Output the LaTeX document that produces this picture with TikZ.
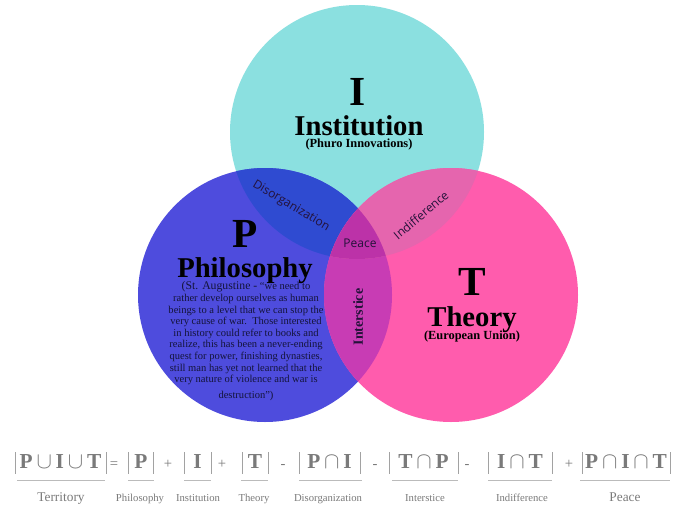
\documentclass[tikz,border=0pt]{standalone}
\usepackage{fontspec}
\setmainfont{Liberation Serif}
\newfontfamily\lblfont{Open Sans}
\definecolor{cP}{HTML}{4E4CDD}
\definecolor{cI}{HTML}{8BE0E0}
\definecolor{cT}{HTML}{FF5CAD}
\definecolor{cPI}{HTML}{2F4BD1}
\definecolor{cIT}{HTML}{E565AE}
\definecolor{cPT}{HTML}{C83CB4}
\definecolor{cPIT}{HTML}{BC32A8}
\definecolor{ink}{HTML}{14143A}
\definecolor{lbl}{HTML}{24123A}
\definecolor{fgray}{HTML}{7A7A7A}
\definecolor{lgray}{HTML}{BBBBBB}
\begin{document}
\begin{tikzpicture}[x=0.75pt,y=-0.75pt,
  bigletter/.style={font=\bfseries\fontsize{31}{31}\selectfont, inner sep=0pt, anchor=base},
  bigname/.style={font=\bfseries\fontsize{21.5}{22}\selectfont, inner sep=0pt, anchor=base},
  subname/.style={font=\bfseries\fontsize{9.3}{10}\selectfont, inner sep=0pt, anchor=base},
  region/.style={font=\lblfont\fontsize{9}{10}\selectfont, text=lbl, inner sep=0pt},
  term/.style={font=\bfseries\fontsize{16}{16}\selectfont, text=fgray, inner sep=0pt, anchor=base},
  oper/.style={font=\fontsize{11}{11}\selectfont, text=fgray, inner sep=0pt, anchor=base},
  tlabel/.style={font=\fontsize{8}{8}\selectfont, text=fgray, inner sep=0pt, anchor=base},
  tlabelbig/.style={font=\fontsize{10}{10}\selectfont, text=fgray, inner sep=0pt, anchor=base},
  barline/.style={draw=fgray!70, line width=0.6pt},
  uline/.style={draw=lgray, line width=1.2pt}
]
\useasboundingbox[fill=white] (0,0) rectangle (675,507);
\coordinate (oI) at (357,132);
\coordinate (oP) at (265,295);
\coordinate (oT) at (451,295);
\def\R{127}
% circles
\fill[cI] (oI) circle[radius=\R];
\fill[cP] (oP) circle[radius=\R];
\fill[cT] (oT) circle[radius=\R];
\begin{scope}
  \clip (oP) circle[radius=\R];
  \fill[cPI] (oI) circle[radius=\R];
  \fill[cPT] (oT) circle[radius=\R];
\end{scope}
\begin{scope}
  \clip (oI) circle[radius=\R];
  \fill[cIT] (oT) circle[radius=\R];
\end{scope}
\begin{scope}
  \clip (oI) circle[radius=\R];
  \clip (oP) circle[radius=\R];
  \fill[cPIT] (oT) circle[radius=\R];
\end{scope}
% Institution
\node[bigletter] (Ibig) at (358,105) {I};
\node[bigname] (Iname) at (359,135) {Institution};
\node[subname] (Isub) at (359,147) {(Phuro Innovations)};
% Philosophy
\node[bigletter] (Pbig) at (245,247) {P};
\node[bigname] (Pname) at (245,277) {Philosophy};
\node[text=ink, align=center, inner sep=0pt, anchor=north, font=\fontsize{7.9}{8.7}\selectfont] (Ptext) at (246,281.5)
{{\fontsize{8.8}{8.7}\selectfont(St. Augustine -} “we need to\\
rather develop ourselves as human\\
beings to a level that we can stop the\\
very cause of war.\ \ Those interested\\
in history could refer to books and\\
realize, this has been a never-ending\\
quest for power, finishing dynasties,\\
still man has yet not learned that the\\
very nature of violence and war is\\[3pt]
destruction”)};
% Theory
\node[bigletter] (Tbig) at (472,295) {T};
\node[bigname] (Tname) at (472,326) {Theory};
\node[subname] (Tsub) at (472,339) {(European Union)};
% region labels
\node[region, rotate=-31] (Ldis) at (291,206) {Disorganization};
\node[region, rotate=40] (Lind) at (421,215) {Indifference};
\node[region] (Lpeace) at (360,243) {Peace};
\node[font=\bfseries\fontsize{10.5}{11}\selectfont, text=lbl, inner sep=0pt, rotate=90] (Lint) at (358,317) {Interstice};
% formula
\node[term] (f1) at (60.5,468) {P$\,\cup\,$I$\,\cup\,$T};
\node[oper] (o1) at (114,468) {=};
\node[term] (f2) at (141,468) {P};
\node[oper] (o2) at (168,468) {+};
\node[term] (f3) at (197.5,468) {I};
\node[oper] (o3) at (222,468) {+};
\node[term] (f4) at (255,468) {T};
\node[oper] (o4) at (283,468) {-};
\node[term] (f5) at (329.5,468) {P$\,\cap\,$I};
\node[oper] (o5) at (375,468) {-};
\node[term] (f6) at (423.5,468) {T$\,\cap\,$P};
\node[oper] (o6) at (467,468) {-};
\node[term] (f7) at (520,468) {I$\,\cap\,$T};
\node[oper] (o7) at (569,468) {+};
\node[term] (f8) at (626,468) {P$\,\cap\,$I$\,\cap\,$T};
% bars
\foreach \bx in {15,106,128,153,184,211,242,268,299,360,389,458,488,552,582,670}
  \draw[barline] (\bx,452) -- (\bx,474);
% underlines
\draw[uline] (17,480.5) -- (105,480.5);
\draw[uline] (128,480.5) -- (154,480.5);
\draw[uline] (184,480.5) -- (211,480.5);
\draw[uline] (241,480.5) -- (268,480.5);
\draw[uline] (299,480.5) -- (362,480.5);
\draw[uline] (392,480.5) -- (458,480.5);
\draw[uline] (488,480.5) -- (552,480.5);
\draw[uline] (580,480.5) -- (670,480.5);
% labels
\node[tlabelbig] (l1) at (61,501) {Territory};
\node[tlabel] (l2) at (140,501) {Philosophy};
\node[tlabel] (l3) at (198,501) {Institution};
\node[tlabel] (l4) at (254,501) {Theory};
\node[tlabel] (l5) at (328,501) {Disorganization};
\node[tlabel] (l6) at (425,501) {Interstice};
\node[tlabel] (l7) at (522,501) {Indifference};
\node[tlabelbig] (l8) at (625,501) {Peace};
\end{tikzpicture}
\end{document}
